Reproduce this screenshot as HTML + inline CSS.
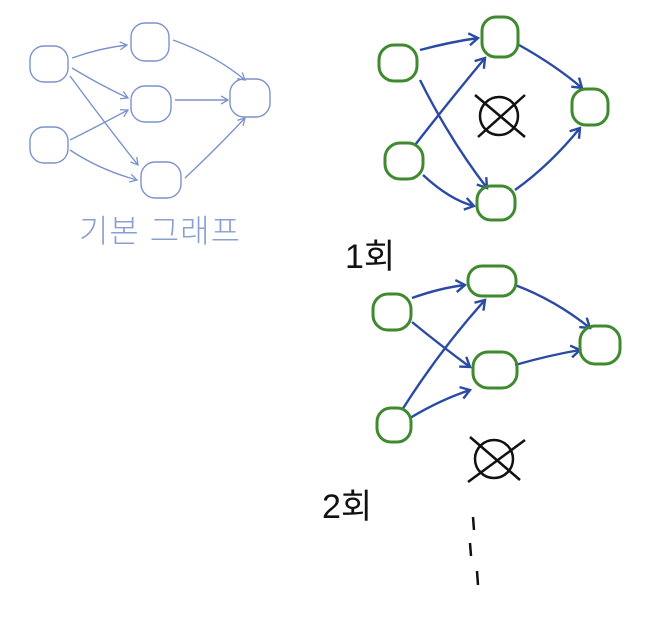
<!DOCTYPE html>
<html><head><meta charset="utf-8"><style>
html,body{margin:0;padding:0;background:#fff;}
svg{display:block;}
text{font-family:"Liberation Sans","Noto Sans CJK KR","NanumGothic",sans-serif;}
</style></head><body>
<svg width="657" height="617" viewBox="0 0 657 617">
<defs>
<marker id="al" markerWidth="10" markerHeight="10" refX="8" refY="5" orient="auto" markerUnits="userSpaceOnUse"><path d="M1,1 L8,5 L1,9" fill="none" stroke="#7b93cc" stroke-width="1.3"/></marker>
<marker id="ad" markerWidth="14" markerHeight="14" refX="10" refY="7" orient="auto" markerUnits="userSpaceOnUse"><path d="M1,1 L10,7 L1,13" fill="none" stroke="#2b4aa3" stroke-width="2.4"/></marker>
</defs>

<g fill="none" stroke="#7b93cc" stroke-width="1.4">
<rect x="30" y="46" width="38" height="36" rx="14"/>
<rect x="131" y="23" width="38" height="38" rx="14"/>
<rect x="131" y="86" width="40" height="36" rx="14"/>
<rect x="30" y="127" width="38" height="36" rx="14"/>
<rect x="141" y="162" width="40" height="36" rx="14"/>
<rect x="230" y="79" width="40" height="38" rx="14"/>
<g marker-end="url(#al)">
<path d="M72,58 Q100,48 127,45"/>
<path d="M72,68 Q100,85 128,98"/>
<path d="M70,76 Q110,130 138,165"/>
<path d="M70,140 Q100,125 128,110"/>
<path d="M70,150 Q100,170 137,180"/>
<path d="M173,40 Q215,55 245,80"/>
<path d="M175,100 L228,100"/>
<path d="M185,178 Q215,150 245,118"/>
</g>
</g>
<text x="160" y="242" text-anchor="middle" font-size="32" fill="#8a9fd2" font-weight="300" letter-spacing="1">기본 그래프</text>

<g fill="none">
<g stroke="#2b4aa3" stroke-width="2.4" marker-end="url(#ad)">
<path d="M420,50 Q450,42 478,38"/>
<path d="M420,80 Q450,140 487,188"/>
<path d="M415,145 Q450,100 485,58"/>
<path d="M423,175 Q450,200 474,206"/>
<path d="M519,45 Q555,65 582,88"/>
<path d="M515,190 Q550,165 580,128"/>
</g>
<g stroke="#3f8a2f" stroke-width="3">
<rect x="379" y="45" width="38" height="36" rx="15"/>
<rect x="482" y="17" width="36" height="40" rx="14"/>
<rect x="572" y="89" width="36" height="36" rx="14"/>
<rect x="385" y="143" width="38" height="36" rx="15"/>
<rect x="477" y="186" width="38" height="34" rx="14"/>
</g>
<g stroke="#111" stroke-width="2.5">
<circle cx="499" cy="116" r="19"/>
<path d="M475,95 L525,137 M525,95 L478,137"/>
</g>
</g>
<text x="345" y="268" font-size="34" fill="#111">1회</text>

<g fill="none">
<g stroke="#2b4aa3" stroke-width="2.4" marker-end="url(#ad)">
<path d="M412,298 Q440,288 465,285"/>
<path d="M412,322 Q440,345 470,367"/>
<path d="M402,410 Q440,350 485,300"/>
<path d="M410,418 Q440,400 470,390"/>
<path d="M515,285 Q555,300 590,328"/>
<path d="M515,365 Q550,355 580,350"/>
</g>
<g stroke="#3f8a2f" stroke-width="3">
<rect x="373" y="294" width="38" height="36" rx="15"/>
<rect x="468" y="266" width="48" height="30" rx="14"/>
<rect x="580" y="326" width="40" height="38" rx="15"/>
<rect x="473" y="352" width="44" height="36" rx="15"/>
<rect x="377" y="408" width="34" height="34" rx="14"/>
</g>
<g stroke="#111" stroke-width="2.5">
<circle cx="494" cy="459" r="19"/>
<path d="M470,437 L520,480 M525,440 L468,482"/>
</g>
</g>
<text x="322" y="518" font-size="34" fill="#111">2회</text>
<g stroke="#111" stroke-width="2.5">
<path d="M473,517 L474,530"/><path d="M470,543 L471,556"/><path d="M477,571 L478,585"/>
</g>
</svg>
</body></html>
